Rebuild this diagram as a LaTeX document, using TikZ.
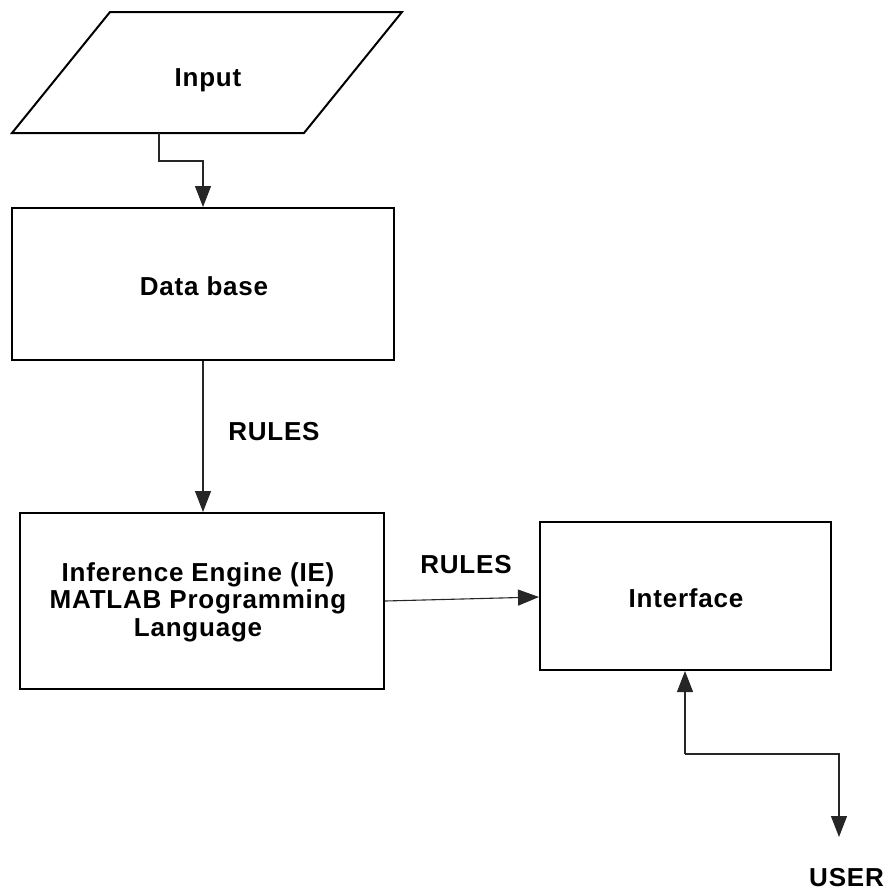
\documentclass[tikz,border=0pt]{standalone}
\usepackage{fontspec}
\setmainfont{Liberation Sans}
\usetikzlibrary{arrows.meta}
\begin{document}
\begin{tikzpicture}[x=1pt,y=-1pt,
  lbl/.style={font=\fontsize{26}{27.5}\selectfont\bfseries\addfontfeature{LetterSpace=3}, align=center, inner sep=0pt},
  boxline/.style={line width=2pt},
  conn/.style={line width=1.1pt, draw=black!85},
  tip/.style={-{Triangle[width=16pt,length=21pt]}},
]
\useasboundingbox (0,0) rectangle (886,892);

% input parallelogram
\draw[boxline] (110,12) -- (402,12) -- (304,133) -- (12,133) -- cycle;
\node[lbl] (in) at (208,80) {Input};
\coordinate (inb) at (159,133);

% boxes
\node[boxline, draw, minimum width=382pt, minimum height=152pt, inner sep=0pt] (db) at (203,284) {};
\node[lbl] at (204,286) {Data base};
\node[boxline, draw, minimum width=364pt, minimum height=176pt, inner sep=0pt] (ie) at (202,601) {};
\node[lbl] at (198,602) {Inference Engine (IE)\\MATLAB Programming\\Language};
\node[boxline, draw, minimum width=291pt, minimum height=148pt, inner sep=0pt] (ui) at (685.5,596) {};
\node[lbl] at (686,598) {Interface};

% labels
\node[lbl] (r1) at (274,432) {RULES};
\node[lbl] (r2) at (466,565) {RULES};
\node[lbl, anchor=east] (user) at (884,878) {USER};
\coordinate (userend) at (839,837);

% connectors
\draw[conn, tip] (inb) -- (159,161) -- (203,161) -- (db.north -| 203,0);
\draw[conn, tip] (db.south -| 203,0) -- (ie.north -| 203,0);
\draw[conn, tip] (ie.east |- 0,601) -- (ui.west |- 0,597);
\draw[conn, tip] (685,754) -- (ui.south -| 685,0);
\draw[conn, tip] (685,754) -- (839,754) -- (userend);
\end{tikzpicture}
\end{document}
